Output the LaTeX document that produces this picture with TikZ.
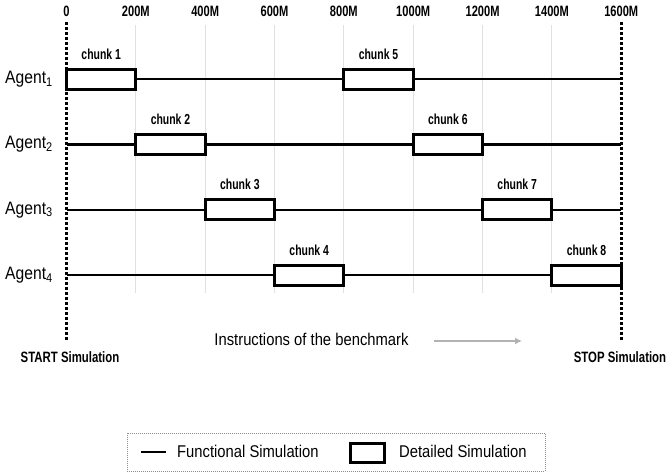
\documentclass[tikz,border=0pt]{standalone}
\usepackage{fontspec}
\setmainfont{Liberation Sans}
\newfontfamily\ticfont[FakeStretch=0.74]{Liberation Sans}
\newfontfamily\chkfont[FakeStretch=0.72]{Liberation Sans}
\newfontfamily\simfont[FakeStretch=0.76]{Liberation Sans}
\newfontfamily\regfont[FakeStretch=0.87]{Liberation Sans}
\usetikzlibrary{arrows.meta,positioning}
\begin{document}
\begin{tikzpicture}[x=1pt,y=-1pt,
  tick/.style={font=\ticfont\bfseries\fontsize{15}{16}\selectfont, inner sep=0},
  chunklbl/.style={font=\chkfont\bfseries\fontsize{14.5}{16}\selectfont, inner sep=0},
  agentlbl/.style={font=\regfont\fontsize{18}{20}\selectfont, inner sep=0, anchor=west},
  plainlbl/.style={font=\regfont\fontsize{17}{19}\selectfont, inner sep=0},
  boldlbl/.style={font=\simfont\bfseries\fontsize{15}{16}\selectfont, inner sep=0},
  chunkbox/.style={draw, line width=3pt, fill=white, minimum width=69.3pt, minimum height=20pt, inner sep=0},
  funcline/.style={line width=2.2pt},
  gridline/.style={draw=black!12, line width=1pt},
  limit/.style={line width=3pt, dash pattern=on 2.5pt off 2.5pt},
  legendbox/.style={draw=black!45, line width=0.8pt, dash pattern=on 1pt off 1pt},
]
\useasboundingbox (0,0) rectangle (668,474);
% grid
\foreach \i in {1,...,7}
  \draw[gridline] ({66.5+\i*69.34},25) -- ({66.5+\i*69.34},293);
% ticks
\foreach \i/\t in {0/0,1/200M,2/400M,3/600M,4/800M,5/1000M,6/1200M,7/1400M,8/1600M}
  \node[tick] (t\i) at ({66.5+\i*69.34},11) {\t};
% limits
\coordinate (startTop) at (66.5,22);
\coordinate (startBot) at (66.5,341);
\coordinate (stopTop) at (621,22);
\coordinate (stopBot) at (621,341);
\draw[limit] (startTop) -- (startBot);
\draw[limit] (stopTop) -- (stopBot);
% agent rows
\foreach \r in {1,...,4}{
  \coordinate (s\r) at (66.5,{79+(\r-1)*65.4});
  \coordinate (e\r) at (621,{79+(\r-1)*65.4});
  \draw[funcline] (s\r) -- (e\r);
  \node[agentlbl] (a\r) at (5,{79+(\r-1)*65.4}) {Agent\textsubscript{\r}};
}
% chunks
\foreach \k in {1,...,8}{
  \pgfmathtruncatemacro\r{mod(\k-1,4)+1}
  \node[chunkbox] (c\k) at ({66.5+(\k-0.5)*69.34},{79+(\r-1)*65.4}) {};
  \node[chunklbl, above=8pt of c\k.north] (cl\k) {chunk \k};
}
% bottom texts
\node[plainlbl] (instr) at (311.5,339) {Instructions of the benchmark};
\coordinate (arrA) at (434,341);
\coordinate (arrB) at (522,341);
\draw[draw=black!30, line width=2pt, -{Latex[length=7pt,width=7pt]}] (arrA) -- (arrB);
\node[boldlbl] (start) at (70,357) {START Simulation};
\node[boldlbl] (stop) at (620,357) {STOP Simulation};
% legend
\node[legendbox, minimum width=418pt, minimum height=38pt] (legend) at (336,452) {};
\coordinate (lA) at (141,452);
\coordinate (lB) at (166,452);
\draw[funcline] (lA) -- (lB);
\node[plainlbl, anchor=west] (ltxt1) at (177,451) {Functional Simulation};
\node[draw, line width=3pt, minimum width=34pt, minimum height=19pt, inner sep=0] (lbox) at (367.5,453) {};
\node[plainlbl, anchor=west] (ltxt2) at (399,451) {Detailed Simulation};
\end{tikzpicture}
\end{document}
